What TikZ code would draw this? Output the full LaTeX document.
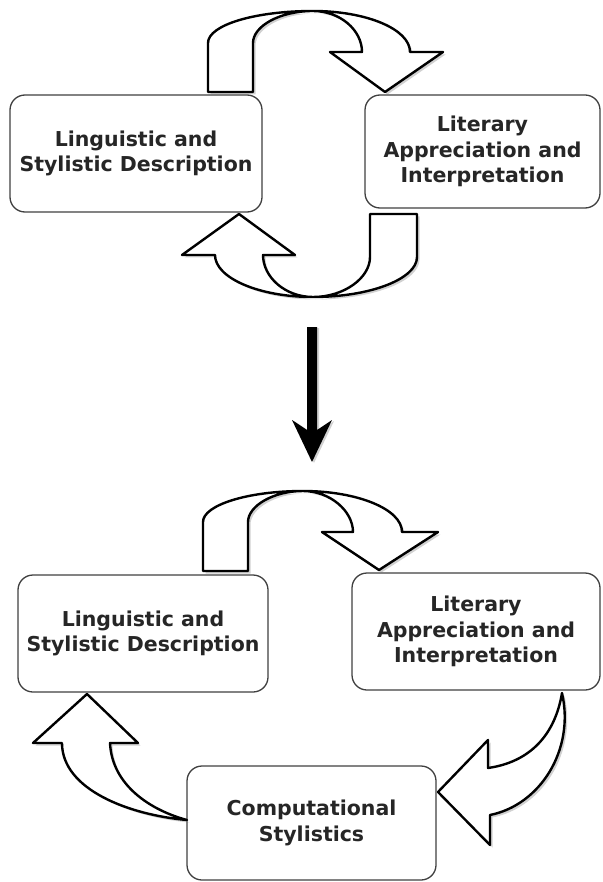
\documentclass[tikz,border=0pt]{standalone}
\usepackage{fontspec}
\setmainfont{DejaVu Sans}
\usetikzlibrary{shadows}
\tikzset{
  box/.style={draw=black!75, line width=1.3pt, rounded corners=15pt, fill=white,
    align=center, font=\bfseries\fontsize{20.5}{25.5}\selectfont, text=black!85,
    inner sep=0pt},
  blockarrow/.style={draw=black, line width=2.4pt, fill=white, line join=round,
    drop shadow={shadow xshift=2.5pt, shadow yshift=-2.5pt, opacity=0.3, fill=black!60}},
  bigarrow/.style={fill=black, draw=none,
    drop shadow={shadow xshift=2pt, shadow yshift=-1pt, opacity=0.3, fill=black!60}}
}
\begin{document}
\begin{tikzpicture}[x=1pt,y=-1pt]
\useasboundingbox (0,0) rectangle (602,882);

% boxes
\node[box, minimum width=252pt, minimum height=117pt] (l1) at (136,153.5)
  {Linguistic and\\Stylistic Description};
\node[box, minimum width=235pt, minimum height=113pt] (r1) at (482.5,151.5)
  {Literary\\Appreciation and\\Interpretation};
\node[box, minimum width=250pt, minimum height=117pt] (l2) at (143,633.5)
  {Linguistic and\\Stylistic Description};
\node[box, minimum width=248pt, minimum height=117pt] (r2) at (476,631.5)
  {Literary\\Appreciation and\\Interpretation};
\node[box, minimum width=249pt, minimum height=114pt] (c) at (311.5,823)
  {Computational\\Stylistics};

% top section: L1 -> R1 U-turn
\draw[blockarrow] (208,92) -- (208,43)
  .. controls (208,25) and (255,11) .. (313,11)
  .. controls (366,11) and (410,29) .. (410,52)
  -- (443,52) -- (385,92) -- (330,52) -- (362,52)
  .. controls (362,30) and (340,11) .. (313,11)
  .. controls (280,11) and (253,26) .. (253,43)
  -- (253,92) -- cycle;

% top section: R1 -> L1 U-turn
\draw[blockarrow] (417,214) -- (417,257)
  .. controls (417,279) and (370,297) .. (313,297)
  .. controls (259,297) and (215,278) .. (215,255)
  -- (182,255) -- (239,214) -- (295,255) -- (263,255)
  .. controls (263,277) and (285,297) .. (313,297)
  .. controls (344,297) and (370,278) .. (370,257)
  -- (370,214) -- cycle;

% big black arrow
\fill[bigarrow] (307,327) -- (317,327) -- (317,430) -- (332,420) -- (312,462)
  -- (292,420) -- (307,430) -- cycle;

% bottom section: L2 -> R2 U-turn
\draw[blockarrow] (203,571) -- (203,522)
  .. controls (203,505) and (248,491) .. (303,491)
  .. controls (357,491) and (402,509) .. (402,532)
  -- (438,532) -- (379,570) -- (322,532) -- (353,532)
  .. controls (353,511) and (330,491) .. (303,491)
  .. controls (273,491) and (248,506) .. (248,522)
  -- (248,571) -- cycle;

% R2 -> C
\draw[blockarrow] (562,693)
  .. controls (575,750) and (540,805) .. (490,815)
  -- (490,845) -- (438,792) -- (488,740) -- (488,768)
  .. controls (530,762) and (555,735) .. (562,693) -- cycle;

% C -> L2
\draw[blockarrow] (187,820)
  .. controls (130,815) and (62,790) .. (62,743)
  -- (33,743) -- (87,694) -- (138,743) -- (110,743)
  .. controls (112,785) and (150,810) .. (187,820) -- cycle;
\end{tikzpicture}
\end{document}
